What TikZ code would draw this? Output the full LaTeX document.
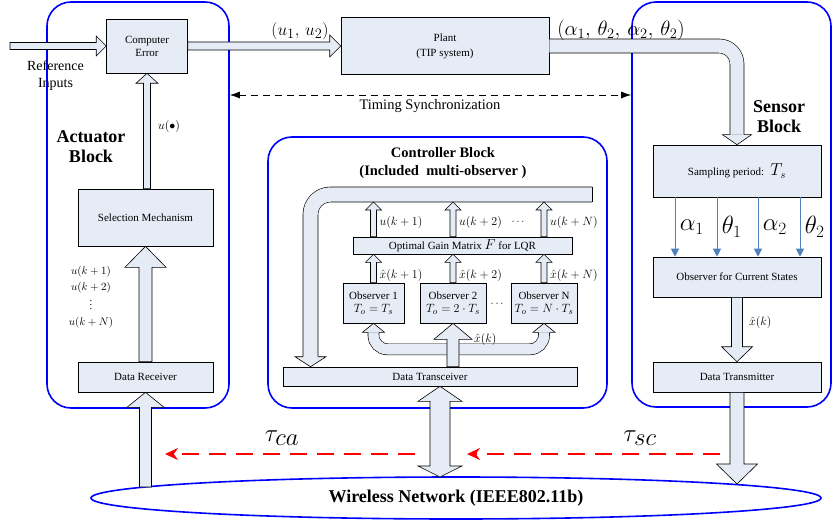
\documentclass[tikz,border=0pt]{standalone}
\usepackage{fontspec}
\setmainfont{Liberation Serif}
\usepackage{amsmath}
\usetikzlibrary{shapes.geometric,arrows.meta,positioning,calc}
\definecolor{boxfill}{RGB}{230,236,246}
\definecolor{frameblue}{RGB}{0,0,255}
\definecolor{linkblue}{RGB}{79,129,189}
\tikzset{
    block/.style={rectangle, draw, fill=boxfill, line width=0.6pt, inner sep=1pt,
                  align=center, font=\fontsize{11}{13}\selectfont},
    group/.style={rectangle, draw=frameblue, line width=1.6pt, rounded corners=24pt},
    net/.style={ellipse, draw=frameblue, line width=1.6pt, inner sep=0pt},
    title/.style={align=center, font=\bfseries\fontsize{18}{20}\selectfont},
    lbl/.style={inner sep=1pt, font=\fontsize{11}{13}\selectfont},
    fatbody/.style={draw=black, fill=boxfill, line width=0.6pt},
    fatband/.style={draw=black, double=boxfill, double distance=#1, line width=0.6pt},
    sample/.style={draw=linkblue, line width=0.9pt, -{Triangle[length=8pt,width=8pt]}},
    sync/.style={dash pattern=on 7pt off 5pt, line width=0.9pt,
                 {Latex[length=10pt,width=7pt]}-{Latex[length=10pt,width=7pt]}},
    delay/.style={draw=red, dash pattern=on 17pt off 10pt, line width=2pt,
                  -{Stealth[length=13pt,width=12pt]}},
}
% fat hollow arrow: shaft half width, head half width, head length, from, to
\newcommand{\fatarrow}[5]{%
  \draw[fatbody] let \p1=#4, \p2=#5,
      \n1={atan2(\y2-\y1,\x2-\x1)},
      \n2={veclen(\x2-\x1,\y2-\y1)-#3} in
    ($(\p1)+({\n1+90}:#1)$) -- ++({\n1}:{\n2}) -- ++({\n1+90}:{#2-#1}) -- (\p2)
    -- ($(\p1)+({\n1}:{\n2})+({\n1-90}:#2)$) -- ++({\n1+90}:{#2-#1})
    -- ($(\p1)+({\n1-90}:#1)$) -- cycle;}
% fat hollow arrow with two heads
\newcommand{\fatboth}[6]{%
  \draw[fatbody] let \p1=#5, \p2=#6,
      \n1={atan2(\y2-\y1,\x2-\x1)} in
    (\p1) -- ($(\p1)+({\n1}:#3)+({\n1+90}:#2)$) -- ++({\n1-90}:{#2-#1})
    -- ($(\p2)+({\n1+180}:#4)+({\n1+90}:#1)$) -- ++({\n1+90}:{#2-#1}) -- (\p2)
    -- ($(\p2)+({\n1+180}:#4)+({\n1-90}:#2)$) -- ++({\n1+90}:{#2-#1})
    -- ($(\p1)+({\n1}:#3)+({\n1-90}:#1)$) -- ++({\n1-90}:{#2-#1}) -- cycle;}
% head for a fat band: shaft half width, head half width, head length, tip, direction
\newcommand{\fathead}[5]{%
  \draw[fatbody] let \p1=#4 in
    ($(\p1)+({#5+180}:#3)+({#5+90}:#1)$) -- ++({#5+90}:{#2-#1}) -- (\p1)
    -- ($(\p1)+({#5+180}:#3)+({#5-90}:#2)$) -- ++({#5+90}:{#2-#1});}

\begin{document}
\begin{tikzpicture}[x=1pt, y=1pt]
    \useasboundingbox (0,0) rectangle (832,-524);

    % Frames
    \node[group, minimum width=182pt, minimum height=406pt] (act) at (138,-205) {};
    \node[group, minimum width=339pt, minimum height=271pt] (ctl) at (437.5,-272.5) {};
    \node[group, minimum width=199pt, minimum height=405pt] (sen) at (731.5,-204.5) {};
    \node[net, minimum width=730pt, minimum height=42pt,
          font=\bfseries\fontsize{18}{20}\selectfont] (wnet) at (456,-498) {Wireless Network (IEEE802.11b)};

    % Titles
    \node[title] (acttl) at (91,-147) {Actuator\\Block};
    \node[title] (sentl) at (779,-117) {Sensor\\Block};
    \node[title, font=\bfseries\fontsize{14.5}{18}\selectfont] (ctltl) at (443,-163)
        {Controller Block\\(Included~~multi-observer~)};

    % Actuator side and plant
    \node[block, minimum width=81pt, minimum height=54pt] (ce) at (147,-46) {Computer\\Error};
    \node[block, minimum width=135pt, minimum height=57pt] (sel) at (145.5,-217.5) {Selection Mechanism};
    \node[block, minimum width=135pt, minimum height=30pt] (rcv) at (145.5,-377) {Data Receiver};
    \node[block, minimum width=208pt, minimum height=57pt, font=\fontsize{11}{15}\selectfont] (plant) at (445,-46) {Plant\\(TIP system)};

    % Sensor side
    \node[block, minimum width=168pt, minimum height=52pt] (samp) at (737,-171)
        {Sampling period:~ {\fontsize{16}{16}\selectfont$T_s$}};
    \node[block, minimum width=168pt, minimum height=40pt] (obsc) at (737,-277) {Observer for Current States};
    \node[block, minimum width=168pt, minimum height=30pt] (tx) at (737,-377) {Data Transmitter};

    % Controller
    \node[block, minimum width=219pt, minimum height=17pt] (gain) at (462.5,-245.5)
        {Optimal Gain Matrix {\fontsize{15}{15}\selectfont$F$} for LQR};
    \node[block, minimum width=61pt, minimum height=40pt] (obs1) at (373.5,-303)
        {Observer 1\\{\fontsize{12.5}{13}\selectfont$T_o=T_s$}};
    \node[block, minimum width=66pt, minimum height=40pt] (obs2) at (453,-303)
        {Observer 2\\{\fontsize{12.5}{13}\selectfont$T_o=2\cdot T_s$}};
    \node[block, minimum width=66pt, minimum height=40pt] (obsN) at (544,-303)
        {Observer N\\{\fontsize{12.5}{13}\selectfont$T_o=N\cdot T_s$}};
    \node[block, minimum width=294pt, minimum height=19pt] (trx) at (430,-376.5) {Data Transceiver};
    \node[lbl] (odots) at (498,-304) {$\cdots$};
    \node[lbl] (udots) at (519,-222) {$\cdots$};

    % Free ends
    \coordinate (refin) at (10,-46);
    \coordinate (syncy) at (0,-95);
    \coordinate (fbin)  at (592,-194.5);
    \coordinate (fbdn)  at (310.5,-357);
    \coordinate (fblow) at ([yshift=-7.5pt]fbin);
    \coordinate (hub)   at ([yshift=-26pt]obs2.south);
    \coordinate (netL)  at (145.5,-487);
    \coordinate (netM)  at (440,-477);
    \coordinate (netR)  at (737,-484);

    % Loop arrows
    \fatarrow{3.5}{10}{10}{(refin)}{(ce.west)}
    \fatarrow{4}{11}{11}{(ce.east)}{(plant.west)}
    \fatarrow{3.5}{11}{10}{(ce.south |- sel.north)}{(ce.south)}
    \fatarrow{6.5}{20.5}{21}{(rcv.north)}{(sel.south)}
    \fatarrow{6}{18.5}{15}{(netL)}{(rcv.south)}
    \fatarrow{5.5}{15.5}{15}{(obsc.south)}{(tx.north)}
    \fatarrow{7}{20.5}{20}{(tx.south)}{(netR)}
    \fatboth{10}{22}{15}{11}{(netM |- trx.south)}{(netM)}

    \draw[fatband=13.4pt, rounded corners=18pt] (plant.east) -| ([yshift=10pt]samp.north);
    \fathead{7}{14.5}{10}{(samp.north)}{-90}

    % Feedback inside controller
    \draw[fatband=14.4pt, rounded corners=20pt] (fbin) -| (fbdn);
    \draw[line width=0.6pt] ([yshift=7.5pt]fbin) -- ([yshift=-7.5pt]fbin);
    \fathead{7.5}{15.5}{10}{(fbdn |- trx.north)}{-90}

    \foreach \o/\k in {obs1/1, obs2/2, obsN/N} {
        \fatarrow{3}{8}{8}{(gain.north -| \o)}{(\o |- fblow)}
        \fatarrow{3}{8}{8}{(\o.north)}{(gain.south -| \o)}
        \node[lbl, right=5pt, font=\fontsize{11.5}{13}\selectfont] at ($(gain.north -| \o)!0.4!(\o |- fblow)$) {$u(k+\k)$};
        \node[lbl, right=5pt, font=\fontsize{12}{14}\selectfont] at ($(\o.north)!0.25!(gain.south -| \o)$) {$\hat{x}(k+\k)$};
    }

    \foreach \o in {obs1, obsN} {
        \draw[fatband=10.4pt, rounded corners=14pt] (hub) -| ([yshift=-9pt]\o.south);
        \fathead{5.5}{11}{9}{(\o.south)}{90}
    }
    \fatarrow{6}{19}{16}{(obs2 |- trx.north)}{(obs2.south)}
    \node[lbl, anchor=west, font=\fontsize{12}{14}\selectfont] (xhk) at ([shift={(20pt,-16pt)}]obs2.south) {$\hat{x}(k)$};

    % Sampled signals
    \foreach \dx/\sym in {-62/\alpha_1, -20/\theta_1, 21/\alpha_2, 63/\theta_2}
        \draw[sample] ([xshift=\dx pt]samp.south) -- ([xshift=\dx pt]obsc.north)
            node[midway, right=1pt, font=\fontsize{25}{25}\selectfont] {$\sym$};

    % Labels
    \node[lbl, align=center, font=\fontsize{14}{17}\selectfont] (refl) at (55.5,-75.5) {Reference\\Inputs};
    \node[lbl, font=\fontsize{19}{21}\selectfont] (ulab) at (300,-31) {$(u_1,\,u_2)$};
    \node[lbl, font=\fontsize{20}{22}\selectfont] (ylab) at (621,-30) {$(\alpha_1,\,\theta_2,\,\alpha_2,\,\theta_2)$};
    \node[lbl, font=\fontsize{12}{14}\selectfont] (uact) at (169,-127) {$u(\bullet)$};
    \node[lbl, align=center, font=\fontsize{10.5}{16}\selectfont] (useq) at (91,-297)
        {$u(k+1)$\\$u(k+2)$\\$\vdots$\\$u(k+N)$};
    \node[lbl, anchor=west, font=\fontsize{12}{14}\selectfont] (xk) at (748,-322) {$\hat{x}(k)$};

    % Timing synchronization
    \draw[sync] (act.east |- syncy) -- (sen.west |- syncy);
    \node[lbl, font=\fontsize{14.5}{16}\selectfont] (synct) at (430,-106) {Timing Synchronization};

    % Network delays
    \coordinate (dcaS) at (415,-454);
    \coordinate (dcaE) at (165,-454);
    \coordinate (dscS) at (720,-454);
    \coordinate (dscE) at (467,-454);
    \draw[delay] (dcaS) -- (dcaE);
    \draw[delay] (dscS) -- (dscE);
    \node[lbl, font=\fontsize{36}{38}\selectfont] (tca) at (282,-438) {$\tau_{ca}$};
    \node[lbl, font=\fontsize{36}{38}\selectfont] (tsc) at (640,-438) {$\tau_{sc}$};
\end{tikzpicture}
\end{document}
